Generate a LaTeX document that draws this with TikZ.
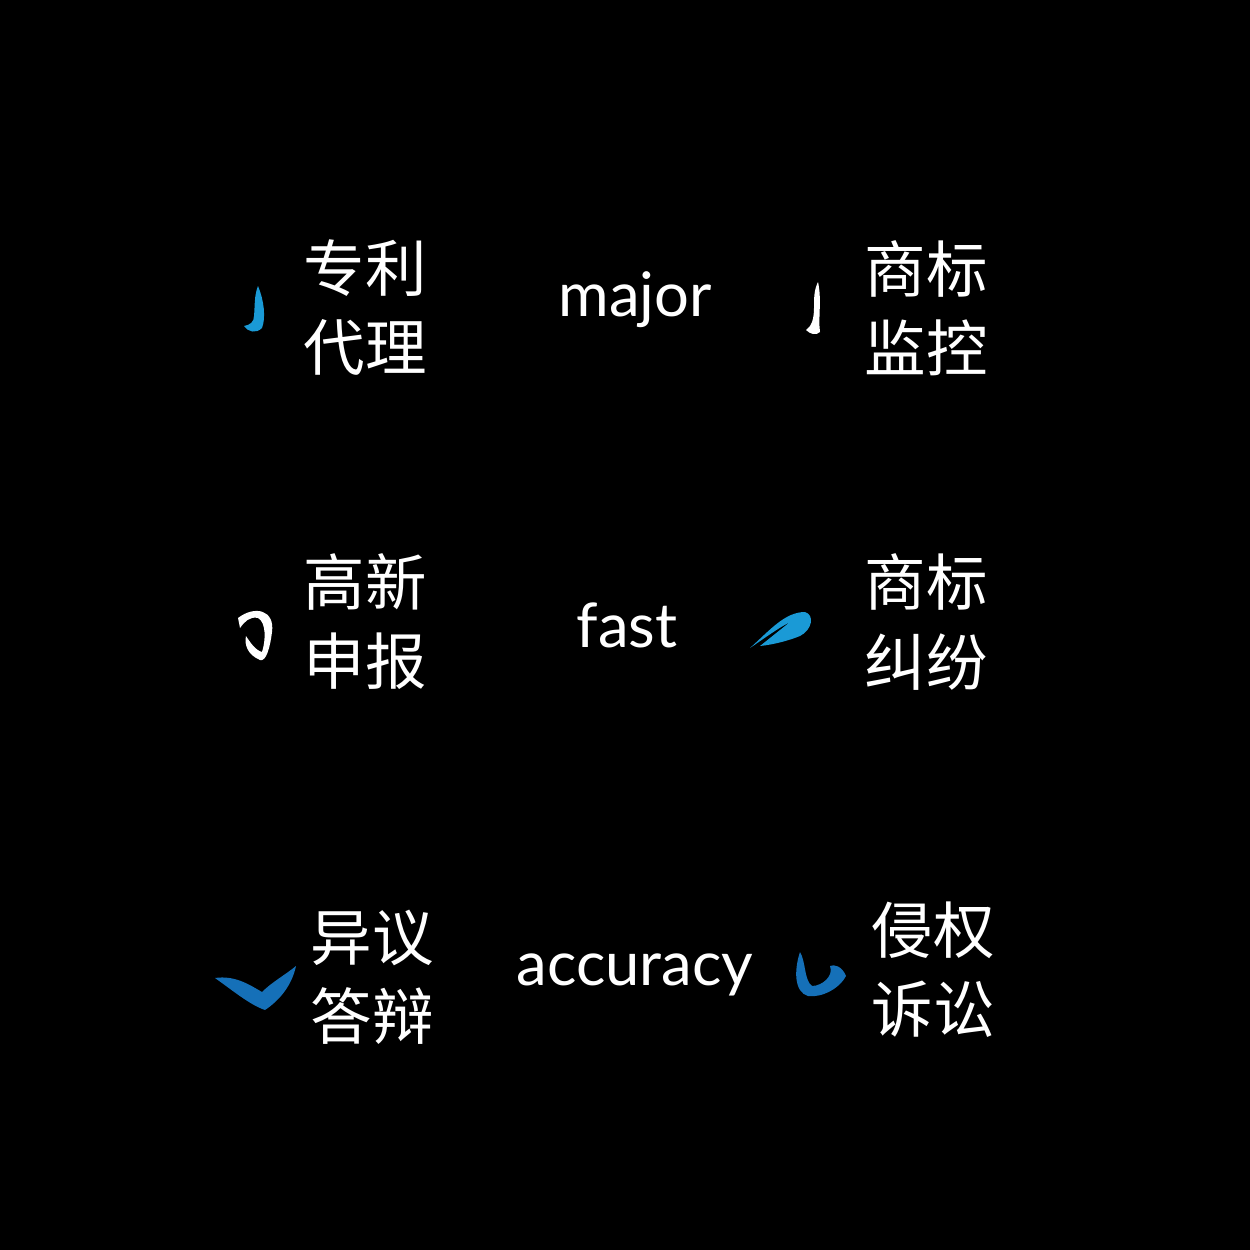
\documentclass[tikz,border=0pt]{standalone}
\usepackage{fontspec}
\setmainfont{Lato}
\newfontfamily\cjk{Noto Sans CJK SC}[Scale=1]
\usetikzlibrary{positioning}
\definecolor{brushblue}{HTML}{1A9AD6}
\definecolor{deepblue}{HTML}{1570B8}

\begin{document}
\begin{tikzpicture}[x=0.02cm,y=-0.02cm,
        every node/.style={text=white, inner sep=0pt},
        service/.style={font=\cjk\fontsize{35}{45}\selectfont, align=left},
        keyword/.style={font=\fontsize{35}{40}\selectfont}
    ]

    % Background
    \fill[black] (0,0) rectangle (1250,1250);

    % Services
    \node[service] (patent) at (365,308) {专利\\代理};
    \node[service] (mark) at (926,308) {商标\\监控};
    \node[service] (tech) at (365,622) {高新\\申报};
    \node[service] (dispute) at (926,622) {商标\\纠纷};
    \node[service] (objection) at (372,977) {异议\\答辩};
    \node[service] (lawsuit) at (933,970) {侵权\\诉讼};

    % Keywords
    \node[keyword] (major) at (635,300) {major};
    \node[keyword] (fast) at (627,625) {fast};
    \node[keyword] (accuracy) at (635,975) {accuracy};

    % Brush strokes
    \fill[brushblue] (258,286) .. controls (264,300) and (266,318) .. (262,328)
        .. controls (256,334) and (248,332) .. (244,326) .. controls (250,325) and (254,322) .. (254,316)
        .. controls (255,306) and (254,296) .. (258,286) -- cycle;
    \fill[white] (818,282) .. controls (822,300) and (818,318) .. (820,332)
        .. controls (816,336) and (810,334) .. (806,330) .. controls (812,326) and (814,318) .. (814,308)
        .. controls (814,298) and (814,290) .. (818,282) -- cycle;
    \fill[white,even odd rule] (238,618) .. controls (255,605) and (275,610) .. (272,632)
        .. controls (270,648) and (266,662) .. (260,660) .. controls (248,655) and (244,645) .. (246,636)
        .. controls (250,642) and (255,650) .. (262,652) .. controls (266,640) and (266,622) .. (258,618)
        .. controls (250,616) and (244,622) .. (240,628) -- cycle;
    \fill[brushblue] (750,648) .. controls (770,630) and (785,612) .. (805,612)
        .. controls (815,615) and (812,630) .. (800,636) .. controls (785,642) and (770,645) .. (760,646)
        .. controls (770,638) and (780,630) .. (790,622) .. controls (775,630) and (762,640) .. (750,648) -- cycle;
    \fill[deepblue] (215,978) .. controls (235,975) and (250,985) .. (262,992)
        .. controls (272,982) and (285,975) .. (296,966) .. controls (292,985) and (280,1000) .. (265,1010)
        .. controls (250,1005) and (232,990) .. (215,978) -- cycle;
    \fill[deepblue] (800,952) .. controls (794,970) and (794,992) .. (808,996)
        .. controls (822,998) and (840,988) .. (846,976) .. controls (842,966) and (834,964) .. (830,966)
        .. controls (834,976) and (822,986) .. (812,986) .. controls (804,980) and (806,962) .. (800,952) -- cycle;

\end{tikzpicture}
\end{document}
